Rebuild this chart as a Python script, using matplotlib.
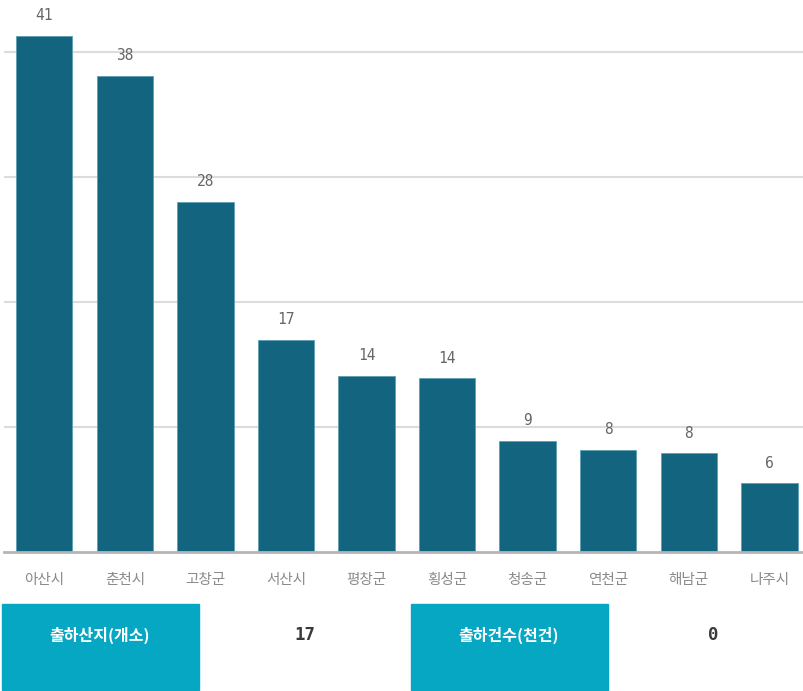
import matplotlib.pyplot as plt
from matplotlib.patches import Rectangle

# chart data (heights, labels are the rounded numbers)
regions = ["아산시", "춘천시", "고창군", "서산시", "평창군", "횡성군", "청송군", "연천군", "해남군", "나주시"]
counts = [41.3, 38.1, 28.0, 17.0, 14.1, 13.9, 8.9, 8.2, 7.9, 5.5]
count_labels = ["41", "38", "28", "17", "14", "14", "9", "8", "8", "6"]

summary_titles = ["출하산지(개소)", "출하건수(천건)"]
summary_values = ["17", "0"]

BAR_COLOR = "#13657f"
BOX_COLOR = "#06a7c3"
KR = ["Noto Sans CJK KR", "DejaVu Sans"]

plt.rcParams["font.family"] = KR

W, H = 804, 691
fig = plt.figure(figsize=(W / 100, H / 100), dpi=100)
ax = fig.add_axes([4 / W, (H - 552) / H, 800 / W, 552 / H])

x = range(len(regions))
ax.bar(x, counts, width=0.7, color=BAR_COLOR, edgecolor="#5f9fb3", linewidth=0.6, zorder=3)

for xi, v, lab in zip(x, counts, count_labels):
    ax.annotate(lab, (xi, v), xytext=(0, 9), textcoords="offset points",
                ha="center", va="bottom", fontsize=10.5, color="#666666",
                family="DejaVu Sans Mono")

ax.set_xlim(-0.5, 9.43)
ax.set_ylim(0, 44.16)
ax.set_yticks([10, 20, 30, 40])
ax.yaxis.grid(True, color="#dcdcdc", linewidth=1.5, zorder=0)
ax.tick_params(axis="y", left=False, labelleft=False)
ax.tick_params(axis="x", bottom=False, pad=11.5)
ax.set_xticks(list(x))
ax.set_xticklabels(regions, fontsize=10.5, color="#8a8a8a")
for s in ["top", "right", "left"]:
    ax.spines[s].set_visible(False)
ax.spines["bottom"].set_color("#b5b5b5")
ax.spines["bottom"].set_linewidth(2)
ax.spines["bottom"].set_zorder(4)

# summary boxes underneath
box_left = [2, 411]
value_x = [305, 713]
for bx, vx, title, val in zip(box_left, value_x, summary_titles, summary_values):
    fig.patches.append(Rectangle((bx / W, 1 / H), 197 / W, 86 / H,
                                 transform=fig.transFigure, color=BOX_COLOR))
    fig.text((bx + 98) / W, (H - 635) / H, title, ha="center", va="center",
             fontsize=11.5, color="white", fontweight="bold")
    fig.text(vx / W, (H - 635) / H, val, ha="center", va="center",
             fontsize=12.5, color="#3a3a3a", fontweight="bold", family="DejaVu Sans Mono")

fig.savefig("out.png", dpi=100)
